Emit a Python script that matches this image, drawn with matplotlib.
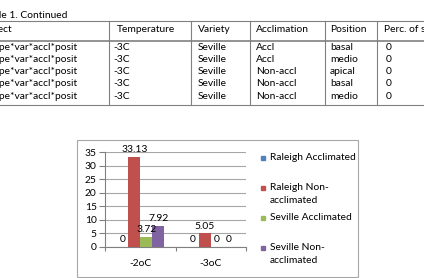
import matplotlib.pyplot as plt
from matplotlib.patches import Rectangle
import numpy as np

plt.rcParams['font.family'] = ['Lato', 'DejaVu Sans']

# table data
header = ["Effect", "Temperature", "Variety", "Acclimation", "Position", "Perc. of survival"]
effect = ["Tempe*var*accl*posit"] * 5
temperature = ["-3C"] * 5
variety = ["Seville"] * 5
acclimation = ["Accl", "Accl", "Non-accl", "Non-accl", "Non-accl"]
position = ["basal", "medio", "apical", "basal", "medio"]
survival = ["0", "0", "0", "0", "0"]

# chart data
categories = ["-2oC", "-3oC"]
series = ["Raleigh Acclimated", "Raleigh Non-\nacclimated", "Seville Acclimated", "Seville Non-\nacclimated"]
values = [[0, 0], [33.13, 5.05], [3.72, 0], [7.92, 0]]
colors = ["#4F81BD", "#C0504D", "#9BBB59", "#8064A2"]

W, H = 424, 278
fig = plt.figure(figsize=(W / 100, H / 100), dpi=100)


def fx(x):
    return x / W


def fy(y):
    return 1 - y / H


fs = 7.4

# title and table
fig.text(fx(67), fy(15), "Table 1. Continued", ha='right', va='center', fontsize=fs)
line_c = "#808080"
for yy, lw in [(21, 0.8), (40.5, 1.2), (105, 0.8)]:
    fig.add_artist(plt.Line2D([0, 1], [fy(yy), fy(yy)], color=line_c, lw=lw, transform=fig.transFigure))
for xx in [109, 191, 250, 325, 377]:
    fig.add_artist(plt.Line2D([fx(xx), fx(xx)], [fy(21), fy(105)], color=line_c, lw=0.8, transform=fig.transFigure))

fig.text(fx(12), fy(29), header[0], ha='right', va='center', fontsize=fs)
col_x = [117, 198, 256, 330, 384]
for cx, h in zip(col_x, header[1:]):
    fig.text(fx(cx), fy(29), h, ha='left', va='center', fontsize=fs)

row_y = [47.7, 60, 72, 84, 96.7]
for i, ry in enumerate(row_y):
    fig.text(fx(78), fy(ry), effect[i], ha='right', va='center', fontsize=fs)
    fig.text(fx(113), fy(ry), temperature[i], ha='left', va='center', fontsize=fs)
    fig.text(fx(198), fy(ry), variety[i], ha='left', va='center', fontsize=fs)
    fig.text(fx(256), fy(ry), acclimation[i], ha='left', va='center', fontsize=fs)
    fig.text(fx(330), fy(ry), position[i], ha='left', va='center', fontsize=fs)
    fig.text(fx(386), fy(ry), survival[i], ha='left', va='center', fontsize=fs)

# chart border
fig.add_artist(Rectangle((fx(77), fy(277)), fx(358) - fx(77), fy(140) - fy(277),
                         transform=fig.transFigure, fill=False, edgecolor="#A6A6A6", lw=0.8))

ax = fig.add_axes([fx(105), fy(247), fx(246) - fx(105), fy(152) - fy(247)])
x = np.arange(len(categories))
w = 0.17
for i, (name, vals, c) in enumerate(zip(series, values, colors)):
    pos = x + (i - 1.5) * w
    ax.bar(pos, vals, width=w, color=c, zorder=3)
    for p, v in zip(pos, vals):
        ax.annotate(f"{v:g}", (p, v), xytext=(0, 2), textcoords='offset points',
                    ha='center', va='bottom', fontsize=fs, zorder=4)

ax.set_xlim(-0.5, 1.5)
ax.set_ylim(0, 35)
ax.set_yticks(np.arange(0, 36, 5))
ax.set_xticks(x)
ax.set_xticklabels(categories)
ax.set_xticks([-0.5, 0.5, 1.5], minor=True)
ax.tick_params(axis='x', which='major', length=0, pad=9, labelsize=fs)
ax.tick_params(axis='x', which='minor', length=3, color="#808080", width=0.8)
ax.tick_params(axis='y', length=4, color="#808080", width=0.8, labelsize=fs, pad=2)
ax.grid(axis='y', color="#A6A6A6", lw=0.8, zorder=0)
for s in ['top', 'right']:
    ax.spines[s].set_visible(False)
for s in ['left', 'bottom']:
    ax.spines[s].set_color("#808080")
    ax.spines[s].set_linewidth(0.8)

# legend
leg_y = [158, 188, 218, 248]
for name, c, ly in zip(series, colors, leg_y):
    fig.add_artist(Rectangle((fx(260.5), fy(ly + 2)), fx(4), fy(0) - fy(4),
                             transform=fig.transFigure, color=c))
    for k, part in enumerate(name.split("\n")):
        fig.text(fx(270), fy(ly + k * 12.5), part, ha='left', va='center', fontsize=fs)

fig.savefig("out.png", dpi=100)
